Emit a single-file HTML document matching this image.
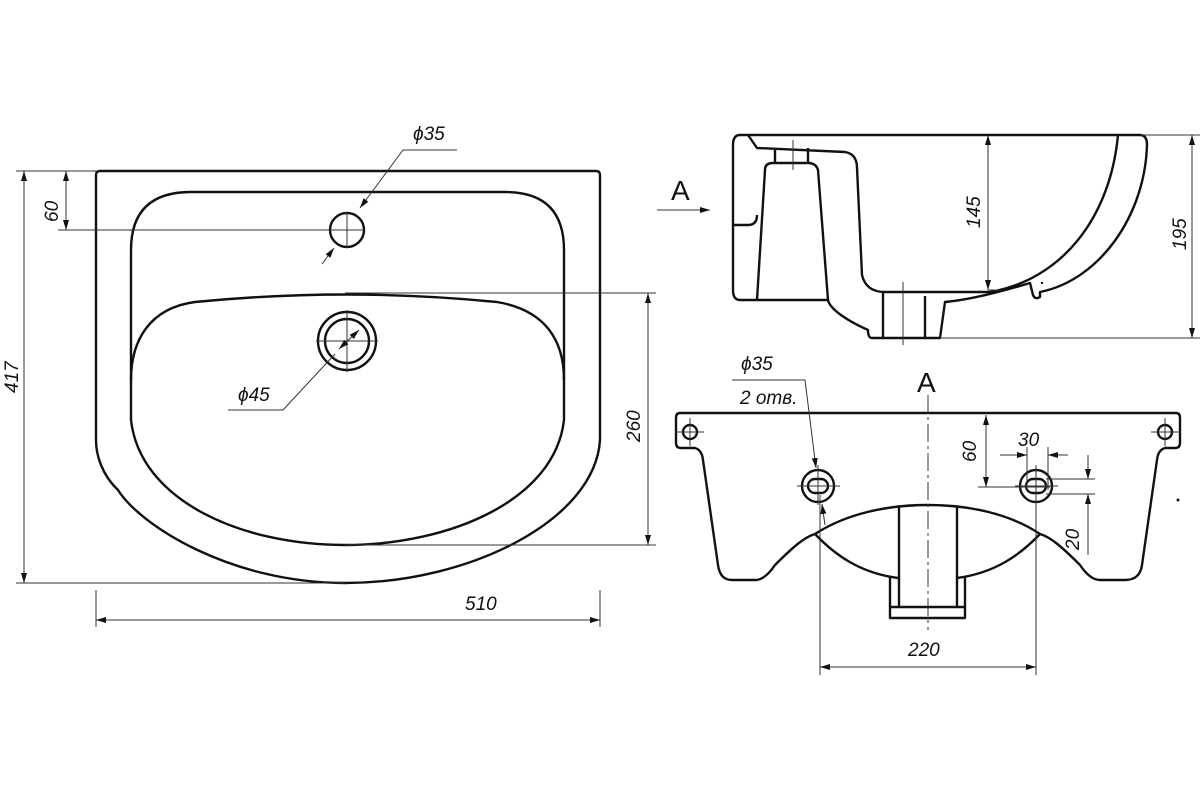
<!DOCTYPE html>
<html><head><meta charset="utf-8"><style>html,body{margin:0;padding:0;background:#fff}svg{display:block}text{font-family:"Liberation Sans",sans-serif;font-style:italic;fill:#111}</style></head><body>
<svg width="1200" height="800" viewBox="0 0 1200 800" xmlns="http://www.w3.org/2000/svg">
<defs>
<marker id="a" viewBox="0 0 10 6" refX="10" refY="3" markerWidth="10" markerHeight="6" orient="auto-start-reverse" markerUnits="userSpaceOnUse"><path d="M0,0 L10,3 L0,6 Z" fill="#111"/></marker>
</defs>
<g fill="none" stroke="#111" stroke-width="2.4" stroke-linejoin="round">
<!-- plan view -->
<path d="M100,171 H596 Q600,171 600,175 V440 C595,520 470,583 345,583 C230,583 140,525 118,490 C102,475 96,455 96,440 V175 Q96,171 100,171 Z"/>
<path d="M131,380 V250 Q131,192 191,192 H505 Q564,192 564,250 V380"/>
<path d="M195,302 Q347,287 497,302 C545,310 564,340 564,380 V420 C555,500 450,545 345,545 C240,545 140,500 131,420 V380 C131,340 150,308 195,302 Z"/>
<circle cx="347" cy="230" r="17"/>
<circle cx="347" cy="341" r="29"/>
<circle cx="347" cy="341" r="22"/>
<!-- side view -->
<path d="M740,135 H1140 Q1147,135 1147,145 C1145,215 1100,280 1040,292 L1040,297 Q1035,300 1033,295 L1030,283 C1000,292 970,300 945,302 L940,338 H872 Q868,338 868,330 C850,322 830,310 828,300 H740 Q733,300 733,290 V145 Q733,135 740,135 Z"/>
<path d="M748,135 L757,148 L845,152 Q857,154 857,168 L862,275 Q866,292 885,292 H990 C1060,280 1110,220 1118,135"/>
<path d="M733,225 H748 Q757,225 757,215"/>
<path d="M828,300 L818,170 Q816,163 808,163 H773 Q765,163 765,170 L757,300"/>
<path d="M775,148 V163 M808,148 V163"/>
<path d="M883,292 V338 M925,296 V338"/>
<!-- front view -->
<path d="M680,413 H1176 Q1180,413 1180,418 V443 Q1180,448 1175,448 H1165 Q1158,450 1157,460 L1142,565 Q1140,580 1125,580 H1100 Q1090,580 1080,565 C1060,545 1050,537 1040,534 C1010,514 970,505 928,505 C886,505 846,514 815,534 C805,537 795,545 775,565 Q765,580 755,580 H732 Q720,580 718,565 L703,460 Q702,450 695,448 H681 Q676,448 676,443 V418 Q676,413 680,413 Z"/>
<path d="M815,534 C835,555 860,573 898,578 M1040,534 C1020,555 995,573 957,578"/>
<path d="M899,507 V607 M957,507 V607 M890,577 V618 H965 V577 M890,607 H965"/>
<circle cx="690" cy="432" r="7"/><circle cx="1165" cy="432" r="7"/>
<circle cx="818" cy="486" r="16"/><rect x="808" y="479" width="20" height="14" rx="7"/>
<circle cx="1036" cy="486" r="16"/><rect x="1026" y="479" width="20" height="14" rx="7"/>
</g>
<g fill="none" stroke="#333" stroke-width="1">
<!-- plan dims -->
<path d="M16,171 H96 M16,583 H345 M58,230 H364 M330,230 H364 M347,212 V248 M345,293 H656 M345,545 H656 M316,341 H378 M347,310 V372 M96,590 V627 M600,590 V627"/>
<path d="M24,171 V583" marker-start="url(#a)" marker-end="url(#a)"/>
<path d="M66,171 V230" marker-start="url(#a)" marker-end="url(#a)"/>
<path d="M648,293 V545" marker-start="url(#a)" marker-end="url(#a)"/>
<path d="M96,620 H600" marker-start="url(#a)" marker-end="url(#a)"/>
<path d="M457,150 H403 L360,208" marker-end="url(#a)"/>
<path d="M322,264 L334,248" marker-end="url(#a)"/>
<path d="M228,410 H283 L335,354"/>
<path d="M339,349 L359,330" marker-start="url(#a)" marker-end="url(#a)"/>
<!-- side dims -->
<path d="M1140,135 H1200 M940,338 H1200 M988,290 H1000 M793,140 V170 M903,282 V345"/>
<path d="M988,135 V290" marker-start="url(#a)" marker-end="url(#a)"/>
<path d="M1192,135 V338" marker-start="url(#a)" marker-end="url(#a)"/>
<path d="M657,210 H710" marker-end="url(#a)"/>
<!-- front dims -->
<path d="M928,395 V630" stroke-dasharray="18,4,3,4"/>
<path d="M676,432 H704 M690,418 V446 M1151,432 H1180 M1165,418 V446 M797,486 H840 M818,465 V505 M1015,486 H1058 M1036,465 V505"/>
<path d="M978,487 H1050 M1027,447 V490 M1048,447 V490 M1046,479 H1095 M1046,494 H1095 M820,495 V675 M1036,495 V675"/>
<path d="M986,415 V487" marker-start="url(#a)" marker-end="url(#a)"/>
<path d="M1000,455 H1027" marker-end="url(#a)"/>
<path d="M1068,455 H1048" marker-end="url(#a)"/>
<path d="M1088,455 V479" marker-end="url(#a)"/>
<path d="M1088,555 V494" marker-end="url(#a)"/>
<path d="M820,667 H1036" marker-start="url(#a)" marker-end="url(#a)"/>
<path d="M732,380 H805 L816,468" marker-end="url(#a)"/>
<path d="M825,525 L822,504" marker-end="url(#a)"/>
</g>
<circle cx="1178" cy="500" r="1.5" fill="#111"/>
<circle cx="1042" cy="283" r="1.2" fill="#111"/>
<g font-size="19">
<text x="413" y="140">ϕ35</text>
<text x="238" y="401">ϕ45</text>
<text x="465" y="610">510</text>
<text transform="translate(18,393) rotate(-90)">417</text>
<text transform="translate(58,222) rotate(-90)">60</text>
<text transform="translate(640,442) rotate(-90)">260</text>
<text transform="translate(980,228) rotate(-90)">145</text>
<text transform="translate(1186,250) rotate(-90)">195</text>
<text x="741" y="370">ϕ35</text>
<text x="740" y="404">2 отв.</text>
<text transform="translate(976,462) rotate(-90)">60</text>
<text x="1018" y="446">30</text>
<text transform="translate(1079,550) rotate(-90)">20</text>
<text x="908" y="656">220</text>
</g>
<text x="671" y="200" font-size="28" style="font-style:normal">A</text>
<text x="917" y="392" font-size="28" style="font-style:normal">A</text>
</svg>
</body></html>
